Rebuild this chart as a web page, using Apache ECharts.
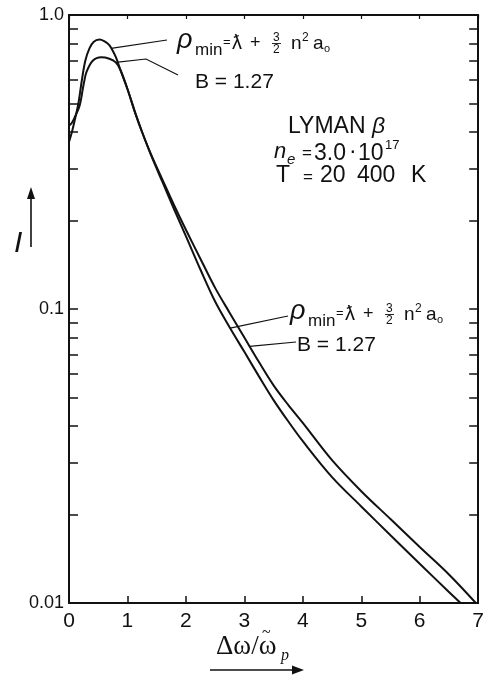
<!DOCTYPE html>
<html>
<head>
<meta charset="utf-8">
<script src="https://cdn.jsdelivr.net/npm/echarts@6/dist/echarts.min.js"></script>
<style>
  html, body { margin: 0; padding: 0; background: #fff; }
  #chart { width: 487px; height: 676px; }
</style>
</head>
<body>
<div id="chart"></div>
<script>
// Lyman beta line profile I(Δω/ω̃p) for two cut-off prescriptions
// (ne = 3.0·10^17, T = 20 400 K), log intensity scale.

// Cut-off  ρmin = ƛ + 3/2 n² a0
const rhoMinX = [0, 0.05, 0.1, 0.16, 0.22, 0.28, 0.35, 0.42, 0.52, 0.6, 0.69, 0.8, 0.88,
  1.0, 1.14, 1.25, 1.4, 1.6, 1.8, 2.0, 2.25, 2.5, 2.75, 3.0, 3.25, 3.5, 3.75, 4.0,
  4.5, 5.0, 5.5, 6.0, 6.5, 6.7];
const rhoMinI = [0.37, 0.40, 0.44, 0.50, 0.60, 0.70, 0.77, 0.81, 0.825, 0.815, 0.79, 0.72, 0.65,
  0.56, 0.46, 0.40, 0.335, 0.27, 0.218, 0.177, 0.136, 0.106, 0.0865, 0.0715, 0.059, 0.049, 0.0415, 0.0355,
  0.0268, 0.0213, 0.0170, 0.0136, 0.0109, 0.0100];

// Cut-off  B = 1.27
const bParamX = [0, 0.05, 0.1, 0.18, 0.25, 0.3, 0.41, 0.55, 0.69, 0.8, 0.88,
  1.0, 1.14, 1.25, 1.4, 1.6, 1.8, 2.0, 2.25, 2.5, 2.75, 3.0, 3.25, 3.5, 3.75, 4.0,
  4.5, 5.0, 5.5, 6.0, 6.5, 6.96];
const bParamI = [0.42, 0.43, 0.45, 0.49, 0.58, 0.64, 0.70, 0.718, 0.71, 0.69, 0.65,
  0.56, 0.46, 0.40, 0.337, 0.275, 0.225, 0.186, 0.148, 0.118, 0.097, 0.080, 0.066, 0.055, 0.0472, 0.0410,
  0.0306, 0.0240, 0.0193, 0.0155, 0.0125, 0.0100];

// Axes
const xTickValues = [0, 1, 2, 3, 4, 5, 6, 7];
const yLabelValues = [0.01, 0.1, 1];
const yLabelTexts = ['0.01', '0.1', '1.0'];
const yTickValues = [0.02, 0.03, 0.04, 0.05, 0.06, 0.07, 0.08, 0.09, 0.1,
  0.2, 0.3, 0.4, 0.5, 0.6, 0.7, 0.8, 0.9];

const SANS = '"Liberation Sans", Arial, sans-serif';
const SERIF = '"Liberation Serif", "Times New Roman", serif';
const INK = '#111';

const toPairs = (xs, ys) => xs.map((x, i) => [x, ys[i]]);

const lineSeries = (name, xs, ys) => ({
  name,
  type: 'line',
  data: toPairs(xs, ys),
  showSymbol: false,
  smooth: 0.35,
  lineStyle: { color: INK, width: 2 },
  silent: true,
  z: 3
});

const xAxisBase = {
  type: 'value', min: 0, max: 7, interval: 1,
  axisLine: { show: true, onZero: false, lineStyle: { color: INK, width: 2 } },
  splitLine: { show: false }
};
const yAxisBase = {
  type: 'log', logBase: 10, min: 0.01, max: 1,
  axisLine: { show: true, onZero: false, lineStyle: { color: INK, width: 2 } },
  splitLine: { show: false },
  minorTick: { show: false }
};

const chart = echarts.init(document.getElementById('chart'), null, { renderer: 'canvas' });

chart.setOption({
  animation: false,
  backgroundColor: '#fff',
  grid: { left: 69, right: 2, top: 15, bottom: 73, containLabel: false },
  xAxis: [
    Object.assign({}, xAxisBase, {
      position: 'bottom',
      axisTick: { show: true, inside: true, length: 7, lineStyle: { color: INK, width: 1.5 } },
      axisLabel: { show: true, color: INK, fontFamily: SANS, fontSize: 21, margin: 8,
        customValues: xTickValues }
    }),
    Object.assign({}, xAxisBase, {
      position: 'top',
      axisTick: { show: true, inside: true, length: 4, lineStyle: { color: INK, width: 1.2 } },
      axisLabel: { show: false }
    })
  ],
  yAxis: [
    Object.assign({}, yAxisBase, {
      position: 'left',
      axisTick: { show: true, inside: true, length: 9, customValues: yTickValues,
        lineStyle: { color: INK, width: 1.5 } },
      axisLabel: {
        show: true, color: INK, fontFamily: SANS, fontSize: 18, margin: 5,
        customValues: yLabelValues,
        formatter: v => {
          const i = yLabelValues.findIndex(t => Math.abs(Math.log10(t) - Math.log10(v)) < 1e-6);
          return i >= 0 ? yLabelTexts[i] : '';
        }
      }
    }),
    Object.assign({}, yAxisBase, {
      position: 'right',
      axisTick: { show: true, inside: true, length: 9, customValues: yTickValues,
        lineStyle: { color: INK, width: 1.5 } },
      axisLabel: { show: false }
    })
  ],
  series: [
    lineSeries('ρmin = ƛ + 3/2 n²a0', rhoMinX, rhoMinI),
    lineSeries('B = 1.27', bParamX, bParamI)
  ]
});

// ---- annotations ----------------------------------------------------------

// log-linear lookup on a curve, used to pin leader lines onto the drawn lines
function curveAt(xs, ys, x) {
  for (let i = 0; i < xs.length - 1; i++) {
    if (x >= xs[i] && x <= xs[i + 1]) {
      const f = (x - xs[i]) / (xs[i + 1] - xs[i]);
      const l = Math.log10(ys[i]) + f * (Math.log10(ys[i + 1]) - Math.log10(ys[i]));
      return Math.pow(10, l);
    }
  }
  return ys[ys.length - 1];
}
function onCurve(xs, ys, x) {
  return chart.convertToPixel({ xAxisIndex: 0, yAxisIndex: 0 }, [x, curveAt(xs, ys, x)]);
}

// text piece placed by its baseline
function t(x, baseline, text, size, opt) {
  opt = opt || {};
  return {
    type: 'text', silent: true, z: 10,
    x: x, y: baseline - 0.35 * size,
    style: {
      text: text,
      fill: INK,
      font: (opt.italic ? 'italic ' : '') + size + 'px ' + (opt.family || SANS),
      align: opt.align || 'left',
      verticalAlign: 'middle'
    }
  };
}
function seg(points, width) {
  return {
    type: 'polyline', silent: true, z: 9,
    shape: { points: points },
    style: { stroke: INK, lineWidth: width || 1.2, fill: null }
  };
}
function arrowHead(points) {
  return { type: 'polygon', silent: true, z: 9, shape: { points: points }, style: { fill: INK } };
}

// ρmin = ƛ + (3/2) n² a0 built from pieces, origin at left end of the baseline
function rhoFormula(ox, base) {
  return [
    t(ox, base, 'ρ', 27, { italic: true }),
    t(ox + 18, base + 6, 'min', 17),
    t(ox + 46, base - 3, '=', 13),
    t(ox + 55, base, 'ƛ', 20),
    t(ox + 73, base - 1, '+', 18),
    t(ox + 96, base - 8, '3', 12),
    seg([[ox + 95, base - 6.5], [ox + 104, base - 6.5]], 0.9),
    t(ox + 96, base + 4, '2', 12),
    t(ox + 114, base, 'n', 19),
    t(ox + 125, base - 8, '2', 12),
    t(ox + 136, base, 'a', 19),
    t(ox + 147, base + 3, 'o', 11)
  ];
}

function drawAnnotations() {
  const els = [];

  // labels near the peak
  els.push(...rhoFormula(177, 50));
  els.push(t(195, 90, 'B = 1.27', 21));
  els.push(seg([[167, 40], onCurve(rhoMinX, rhoMinI, 0.72)]));
  els.push(seg([[178, 75], [146, 59], onCurve(bParamX, bParamI, 0.80)]));

  // labels on the wing
  els.push(...rhoFormula(290, 321));
  els.push(t(297, 353, 'B = 1.27', 21));
  els.push(seg([[288, 316], onCurve(rhoMinX, rhoMinI, 2.757)]));
  els.push(seg([[296, 342], onCurve(bParamX, bParamI, 3.09)]));

  // plasma conditions
  els.push(t(288, 135, 'LYMAN', 23));
  els.push(t(372, 135, 'β', 23, { italic: true }));
  els.push(t(274, 160, 'n', 22, { italic: true }));
  els.push(t(287, 165, 'e', 15, { italic: true }));
  els.push(t(302, 159, '=', 17));
  els.push(t(314, 162, '3.0', 23));
  els.push(t(349, 160, '·', 23));
  els.push(t(358, 162, '10', 23));
  els.push(t(385, 150, '17', 13));
  els.push(t(276, 184, 'T', 23));
  els.push(t(303, 183, '=', 17));
  els.push(t(320, 184, '20', 23));
  els.push(t(357, 184, '400', 23));
  els.push(t(411, 184, 'K', 23));

  // y-axis quantity with arrow
  els.push(t(14, 254, 'I', 30, { italic: true }));
  els.push(seg([[31, 247], [31, 196]], 1.6));
  els.push(arrowHead([[31, 187], [27, 199], [35, 199]]));

  // x-axis quantity with arrow
  els.push(t(216, 656, 'Δω/ω', 27, { family: SERIF }));
  els.push(t(262, 638, '~', 16, { family: SERIF }));
  els.push(t(281, 661, 'p', 16, { italic: true, family: SERIF }));
  els.push(seg([[210, 670], [294, 670]], 1.6));
  els.push(arrowHead([[304, 670], [292, 665.5], [292, 674.5]]));

  chart.setOption({ graphic: { elements: els } });
}

drawAnnotations();
</script>
</body>
</html>
